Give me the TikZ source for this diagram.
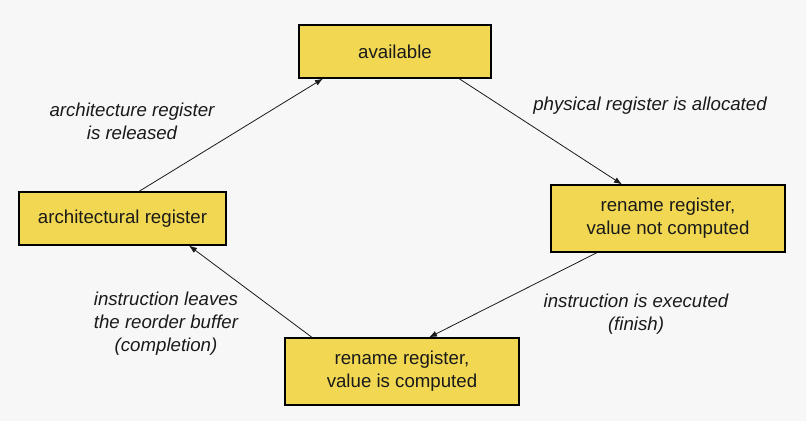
\documentclass[tikz,border=0pt]{standalone}
\usepackage{fontspec}
\setmainfont{Liberation Sans}
\usetikzlibrary{arrows.meta,calc}
\definecolor{bg}{HTML}{F7F7F7}
\definecolor{boxfill}{HTML}{F2D852}
\definecolor{ink}{HTML}{1A1A1A}
\begin{document}
\begin{tikzpicture}[x=0.75pt,y=-0.75pt,
  statebox/.style={draw=black,fill=boxfill,line width=0.9pt,inner sep=0pt,align=center,
    text=ink,font=\fontsize{14pt}{17.25pt}\selectfont},
  lbl/.style={align=center,text=ink,font=\fontsize{14pt}{17.25pt}\selectfont\itshape},
  conn/.style={draw=ink,line width=0.6pt,-{Latex[length=6pt,width=4.5pt]}}]
\fill[bg] (0,0) rectangle (806,421);
\useasboundingbox (0,0) rectangle (806,421);
\node[statebox,minimum width=144pt,minimum height=39.75pt] (avail) at (395,51.5) {\raisebox{-1.5pt}{available}};
\node[statebox,minimum width=155.25pt,minimum height=39.75pt] (arch) at (122.5,218.5) {\raisebox{-1.5pt}{architectural register}};
\node[statebox,minimum width=175.5pt,minimum height=50.25pt] (rnc) at (668,218.5) {rename register,\\value not computed};
\node[statebox,minimum width=175.5pt,minimum height=50.25pt] (rc) at (402,371.5) {rename register,\\value is computed};
\draw[conn] ($(arch.north)+(16.5,0)$) -- ($(avail.south)+(-72,0)$);
\draw[conn] ($(avail.south)+(64,0)$) -- ($(rnc.north)+(-46,0)$);
\draw[conn] ($(rnc.south)+(-71,0)$) -- ($(rc.north)+(27,0)$);
\draw[conn] ($(rc.north)+(-90,0)$) -- ($(arch.south)+(66.5,0)$);
\node[lbl] (l1) at (132,121) {architecture register\\is released};
\node[lbl] (l2) at (650,106) {physical register is allocated};
\node[lbl] (l3) at (636,314) {instruction is executed\\(finish)};
\node[lbl] (l4) at (166,324) {instruction leaves\\the reorder buffer\\(completion)};
\end{tikzpicture}
\end{document}
